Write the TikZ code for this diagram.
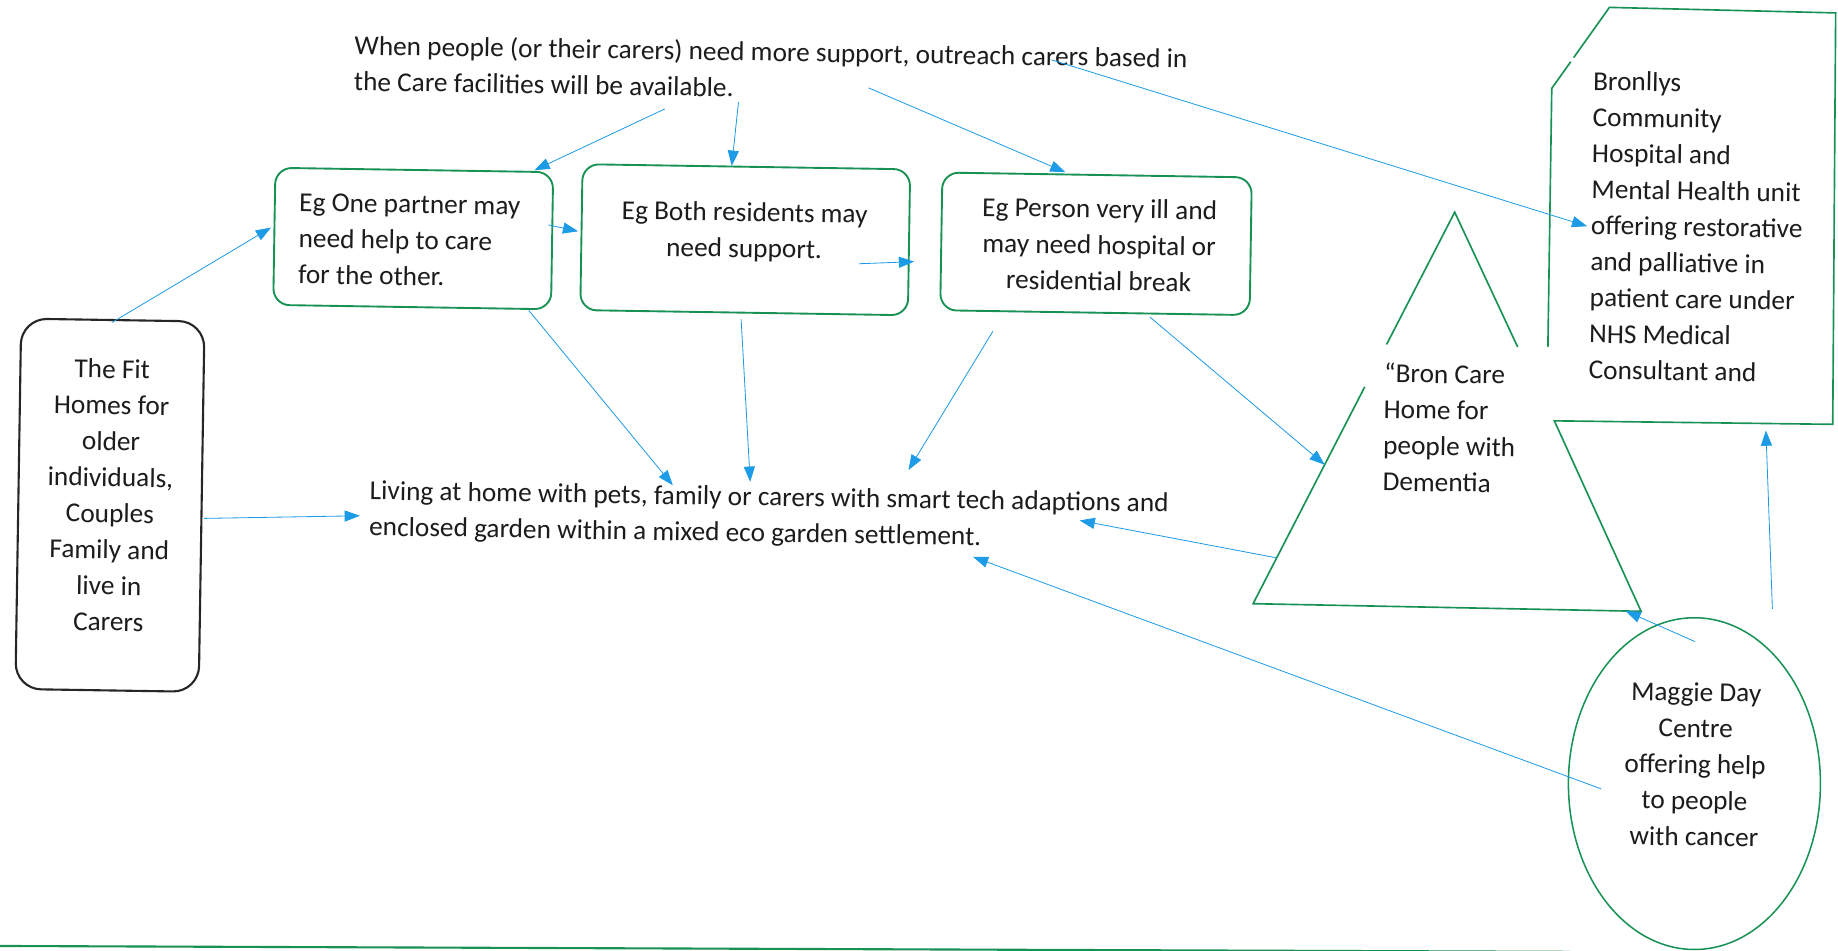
\documentclass[tikz,border=0pt]{standalone}
\usepackage{fontspec}
\setmainfont{Carlito}
\usetikzlibrary{arrows.meta,shapes.geometric,calc}
\definecolor{sgreen}{RGB}{24,145,84}
\definecolor{sblue}{RGB}{30,155,230}
\definecolor{sink}{RGB}{28,28,28}
\begin{document}
\begin{tikzpicture}[x=1pt,y=1pt,
  txt/.style={inner sep=0pt, text=sink, font=\fontsize{23.3}{30.8}\selectfont, rotate=-0.9,
              execute at begin node=\strut, execute at end node=\strut},
  gbox/.style={draw=sgreen, line width=1.6pt, rounded corners=14pt, rotate=-0.9, inner sep=0pt},
  kbox/.style={draw=black!85, line width=1.8pt, rounded corners=22pt, rotate=-0.9, inner sep=0pt},
  gline/.style={draw=sgreen, line width=1.4pt},
  arr/.style={draw=sblue, line width=0.7pt, -{Triangle[length=13pt,width=9.5pt]}},
]
\useasboundingbox (0,0) rectangle (1568,-811);

% boxes
\node[gbox, minimum width=237pt, minimum height=117pt] (boxA) at (352.5,-203.5) {};
\node[gbox, minimum width=279.5pt, minimum height=124.5pt] (boxB) at (635.75,-204.5) {};
\node[gbox, minimum width=264pt, minimum height=117.5pt] (boxC) at (935,-208) {};
\node[kbox, minimum width=156.4pt, minimum height=316pt] (fit) at (93.8,-431) {};
\node[draw=sgreen, line width=1.3pt, ellipse, inner sep=0pt, minimum width=215pt, minimum height=283pt] (maggie) at (1445.5,-668.5) {};

% triangle and hospital outline
\coordinate (apex) at (1241,-181);
\coordinate (bl) at (1069,-515);
\coordinate (br) at (1400,-521.5);
\coordinate (bbl) at (1326,-359);
\coordinate (bbr) at (1563.5,-362);
\coordinate (btr) at (1566,-11);
\coordinate (btl) at (1373,-6.3);
\coordinate (bdl) at (1323.8,-75.4);
\coordinate (bgl) at (1320.5,-296);
\draw[gline] ($(apex)!0.338!(br)$) -- (apex) -- ($(apex)!0.338!(bl)$);
\draw[gline] ($(apex)!0.446!(bl)$) -- (bl) -- (br) -- (bbl) -- (bbr) -- (btr) -- (btl) -- ($(btl)!0.62!(bdl)$);
\draw[gline] ($(btl)!0.67!(bdl)$) -- (bdl) -- (bgl);

% bottom edge
\coordinate (botl) at (0,-807);
\coordinate (botr) at (1340,-812);
\draw[draw=sgreen, line width=1.8pt] (botl) -- (botr);

% texts
\node[txt, align=left, anchor=west] (topt) at (302,-58.1)
  {When people (or their carers) need more support, outreach carers based in\\the Care facilities will be available.};
\node[txt, align=left, anchor=west] (boxAt) at (254.6,-208.2)
  {Eg One partner may\\need help to care\\for the other.};
\node[txt, align=center] (boxBt) at (635,-200.7)
  {Eg Both residents may\\need support.};
\node[txt, align=center] (boxCt) at (937.6,-213.3)
  {Eg Person very ill and\\may need hospital or\\residential break};
\node[txt, align=center] (fitt) at (94,-427)
  {The Fit\\Homes for\\older\\individuals,\\Couples\\Family and\\live in\\Carers};
\node[txt, align=left, anchor=west] (livt) at (315,-438.1)
  {Living at home with pets, family or carers with smart tech adaptions and\\enclosed garden within a mixed eco garden settlement.};
\node[txt, align=left, anchor=west] (bront) at (1180,-368.5)
  {“Bron Care\\Home for\\people with\\Dementia};
\node[txt, align=left, anchor=west] (brt) at (1357,-196.6)
  {Bronllys\\Community\\Hospital and\\Mental Health unit\\offering restorative\\and palliative in\\patient care under\\NHS Medical\\Consultant and};
\node[txt, align=center] (maggiet) at (1446,-656.5)
  {Maggie Day\\Centre\\offering help\\to people\\with cancer};

% connectors
\draw[arr] ([shift={(265,-34.9)}]topt.west) -- ([shift={(102.5,-1)}]boxA.north);
\draw[arr] ([shift={(328,-28.9)}]topt.west) -- ([shift={(-12.5,0)}]boxB.north);
\draw[arr] ([shift={(439,-16.9)}]topt.west) -- ([shift={(-27,1.5)}]boxC.north);
\draw[arr] ([shift={(595,7.1)}]topt.west) -- ([shift={(-3,3.6)}]brt.west);
\draw[arr] ([shift={(-0.8,-3)}]fit.north) -- ([shift={(-2,7.5)}]boxA.west);
\draw[arr] ([shift={(-4,13.5)}]boxA.east) -- ([shift={(-2,5)}]boxB.west);
\draw[arr] ([shift={(98,-24.3)}]boxBt.center) -- ([shift={(3.5,-16.5)}]boxB.east);
\draw[arr] ([shift={(99.5,-2)}]boxA.south) -- ([shift={(259,24.1)}]livt.west);
\draw[arr] ([shift={(-2.5,-5)}]boxB.south) -- ([shift={(325,27.1)}]livt.west);
\draw[arr] ([shift={(-87,-15)}]boxC.south) -- ([shift={(460,37.1)}]livt.west);
\draw[arr] ([shift={(47,-3)}]boxC.south) -- ($(apex)!0.645!(bl)$);
\draw[arr] ([shift={(1,-10)}]fit.east) -- ([shift={(-8,-1.9)}]livt.west);
\draw[arr] ($(apex)!0.883!(bl)$) -- ([shift={(606,-5.9)}]livt.west);
\draw[arr] ([shift={(-79.5,-4.5)}]maggie.center) -- ([shift={(515,-36.9)}]livt.west);
\draw[arr] ([shift={(0.5,-21)}]maggie.north) -- ($(bl)!0.96!(br)$);
\draw[arr] ([shift={(66.5,7)}]maggie.north) -- ($(bbl)!0.76!(bbr)+(0,-6)$);
\end{tikzpicture}
\end{document}
